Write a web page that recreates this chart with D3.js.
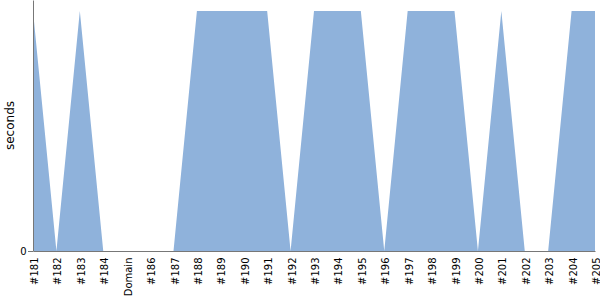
<!DOCTYPE html>
<html><head><meta charset="utf-8">
<script src="https://cdn.jsdelivr.net/npm/d3@7"></script>
<style>
body{margin:0;background:#fff;}
</style></head>
<body><svg id="c" width="600" height="300"></svg>
<script>
const categories = ["#181","#182","#183","#184","Domain","#186","#187","#188","#189","#190","#191","#192","#193","#194","#195","#196","#197","#198","#199","#200","#201","#202","#203","#204","#205"];
const values = [1,0,1,0,0,0,0,1,1,1,1,0,1,1,1,0,1,1,1,0,1,0,0,1,1];
const yTicks = [0];
const yLabel = "seconds";

const W=600,H=300,m={l:33,r:5,t:0,b:49};
const FONT="'DejaVu Sans'";
const svg=d3.select("#c");
const x=d3.scalePoint().domain(categories).range([m.l,W-m.r]);
const y=d3.scaleLinear().domain([0,1.046]).range([H-m.b,m.t]);

const area=d3.area().x((d,i)=>x(categories[i])).y0(y(0)).y1(d=>y(d));
svg.append("path").datum(values).attr("d",area).attr("fill","#8fb2db");

const xa=svg.append("g").attr("transform",`translate(0,${H-m.b})`)
  .call(d3.axisBottom(x).tickSize(0).tickSizeOuter(0));
xa.select(".domain").attr("stroke","#777");
xa.selectAll("text").attr("transform","rotate(-90)").attr("text-anchor","end")
  .attr("x",-6.5).attr("y",1).attr("dy","0.35em").attr("fill","#000")
  .style("font-family",FONT).style("font-size","10px");

const ya=svg.append("g").attr("transform",`translate(${m.l},0)`)
  .call(d3.axisLeft(y).tickValues(yTicks).tickFormat(d3.format("d")).tickSize(5).tickPadding(1.5).tickSizeOuter(0));
ya.select(".domain").attr("stroke","#777");
ya.selectAll("line").attr("stroke","#777");
ya.selectAll("text").attr("fill","#000").style("font-family",FONT).style("font-size","10px");

svg.append("text").attr("transform",`translate(14,${(H-m.b)/2}) rotate(-90)`)
  .attr("text-anchor","middle").style("font-family",FONT).style("font-size","12px").text(yLabel);
</script></body></html>
